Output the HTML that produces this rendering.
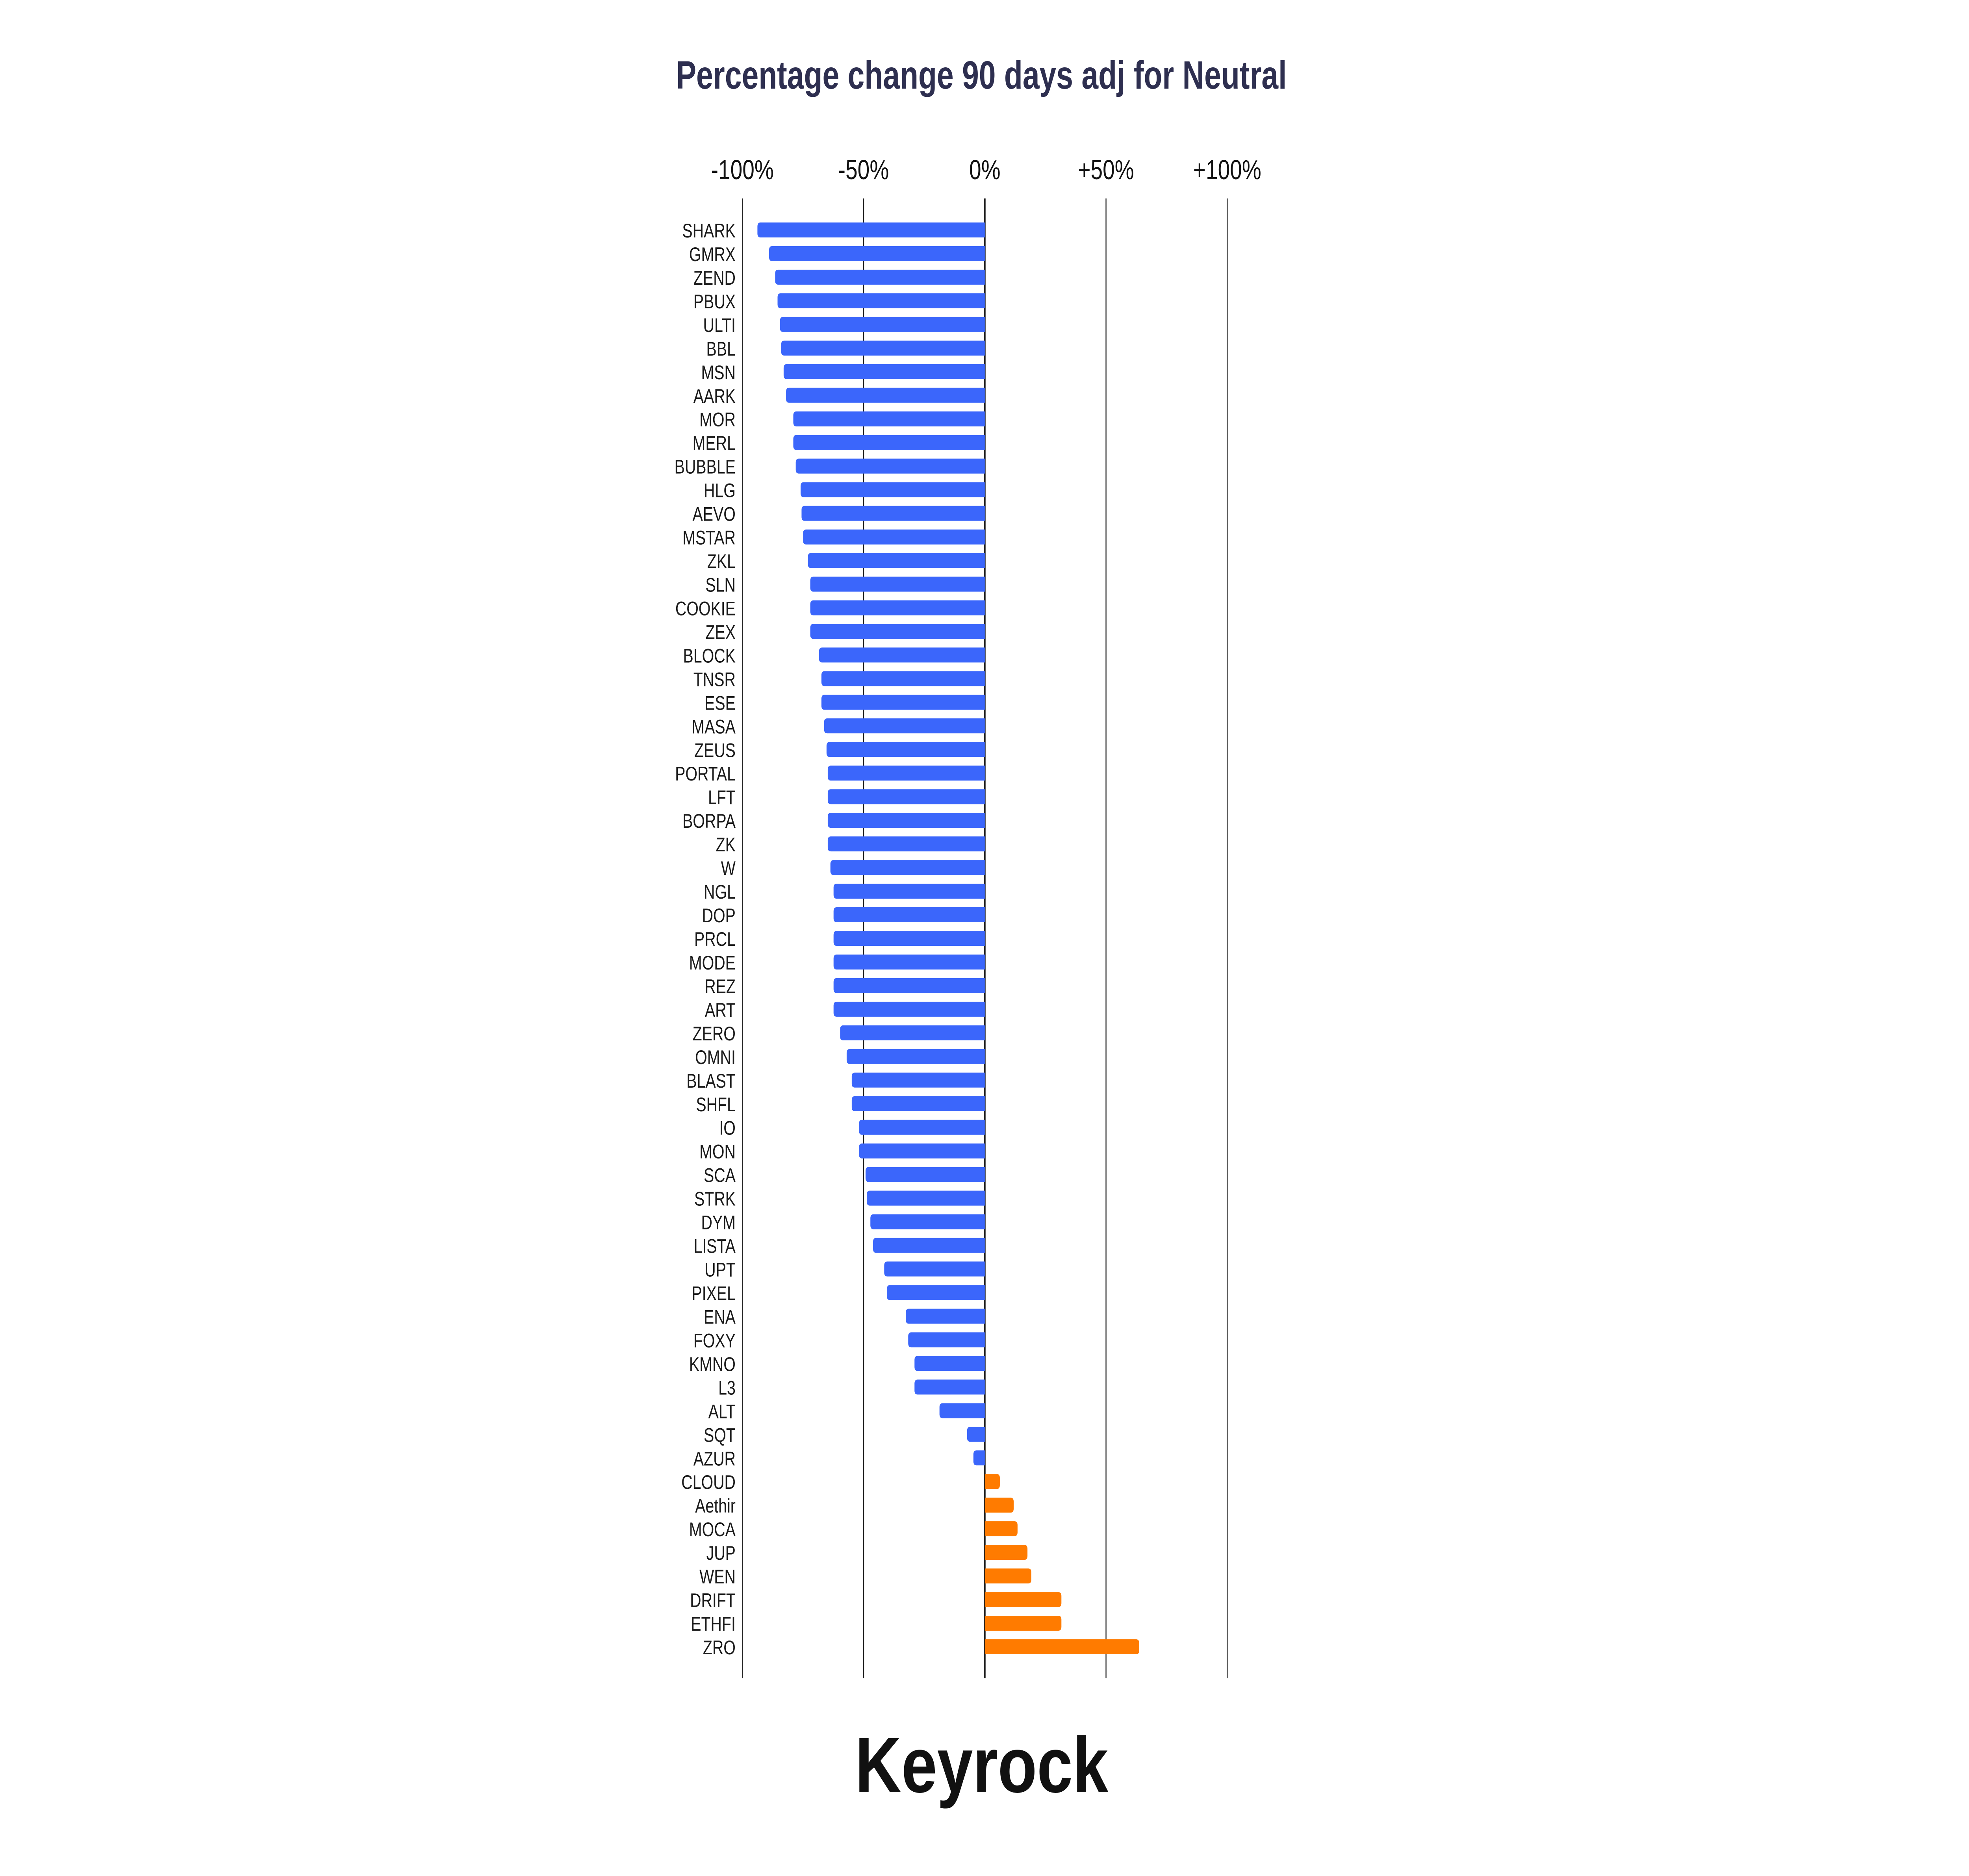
<!DOCTYPE html>
<html><head><meta charset="utf-8">
<style>html,body{margin:0;padding:0;background:#fff;width:100vw;height:100vh;overflow:hidden}svg{display:block;width:100vw;height:100vh}</style>
</head><body>
<svg id="chart" xmlns="http://www.w3.org/2000/svg" viewBox="0 0 6352 4764" preserveAspectRatio="none">
<rect width="6352" height="4764" fill="#fff"/>
<text x="3166" y="225" text-anchor="middle" font-family="Liberation Sans, sans-serif" font-weight="bold" font-size="100" fill="#2e2f50" textLength="1970" lengthAdjust="spacingAndGlyphs">Percentage change 90 days adj for Neutral</text>
<g id="grid"></g>
<g id="bars"></g>
<g id="labels"></g>
<text x="3167" y="4551" text-anchor="middle" font-family="Liberation Sans, sans-serif" font-weight="bold" font-size="200" fill="#111" textLength="817" lengthAdjust="spacingAndGlyphs">Keyrock</text>
</svg>
<script>
const categories = ["SHARK","GMRX","ZEND","PBUX","ULTI","BBL","MSN","AARK","MOR","MERL","BUBBLE","HLG","AEVO","MSTAR","ZKL","SLN","COOKIE","ZEX","BLOCK","TNSR","ESE","MASA","ZEUS","PORTAL","LFT","BORPA","ZK","W","NGL","DOP","PRCL","MODE","REZ","ART","ZERO","OMNI","BLAST","SHFL","IO","MON","SCA","STRK","DYM","LISTA","UPT","PIXEL","ENA","FOXY","KMNO","L3","ALT","SQT","AZUR","CLOUD","Aethir","MOCA","JUP","WEN","DRIFT","ETHFI","ZRO"];
const values = [-93.8,-89,-86.5,-85.5,-84.5,-84,-83,-82,-79,-79,-78,-76,-75.6,-75,-73,-72,-72,-72,-68.4,-67.4,-67.4,-66.3,-65.3,-64.8,-64.8,-64.8,-64.8,-63.7,-62.4,-62.4,-62.4,-62.4,-62.4,-62.4,-59.7,-57,-54.9,-54.9,-51.9,-51.9,-49.2,-48.7,-47.2,-46.1,-41.5,-40.4,-32.6,-31.6,-29,-29,-18.7,-7.3,-4.7,6.2,11.9,13.5,17.6,19.2,31.6,31.6,63.7];
const tickValues = [-100,-50,0,50,100];
const tickLabels = ["-100%","-50%","0%","+50%","+100%"];

const NS = "http://www.w3.org/2000/svg";
const x0 = 3177, pxPer = 7.82;
const xScale = v => x0 + v * pxPer;
const yTop = 584, step = (4182 - 584) / (categories.length - 1);
const yScale = i => yTop + i * step;
const barH = 38;
function mk(tag, attrs, parent) {
  const el = document.createElementNS(NS, tag);
  for (const k in attrs) el.setAttribute(k, attrs[k]);
  parent.appendChild(el);
  return el;
}
const grid = document.getElementById('grid');
const bars = document.getElementById('bars');
const labels = document.getElementById('labels');
tickValues.forEach((t, i) => {
  const x = xScale(t);
  const ln = mk('line', {x1: x, x2: x, y1: 504, y2: 4262, stroke: '#222', 'stroke-width': t === 0 ? 5 : 3}, grid);
  
  
  const tx = mk('text', {x: x, y: 455, 'text-anchor': 'middle', 'font-family': 'Liberation Sans, sans-serif', 'font-size': 70, fill: '#111'}, grid);
  tx.textContent = tickLabels[i];
  
  
});
categories.forEach((c, i) => {
  const v = values[i];
  const yc = yScale(i);
  const xe = xScale(v);
  const r = 10;
  let d;
  if (v < 0) {
    d = `M${x0},${yc-barH/2} L${xe+r},${yc-barH/2} Q${xe},${yc-barH/2} ${xe},${yc-barH/2+r} L${xe},${yc+barH/2-r} Q${xe},${yc+barH/2} ${xe+r},${yc+barH/2} L${x0},${yc+barH/2} Z`;
  } else {
    d = `M${x0},${yc-barH/2} L${xe-r},${yc-barH/2} Q${xe},${yc-barH/2} ${xe},${yc-barH/2+r} L${xe},${yc+barH/2-r} Q${xe},${yc+barH/2} ${xe-r},${yc+barH/2} L${x0},${yc+barH/2} Z`;
  }
  const p = mk('path', {d: d, fill: v < 0 ? '#3b66fb' : '#ff7b00'}, bars);
  
  
  const t = mk('text', {x: 2373, y: yc + 19, 'text-anchor': 'end', 'font-family': 'Liberation Sans, sans-serif', 'font-size': 50, fill: '#1a1a1a'}, labels);
  t.textContent = c;
  
  
});
</script>
</body></html>
